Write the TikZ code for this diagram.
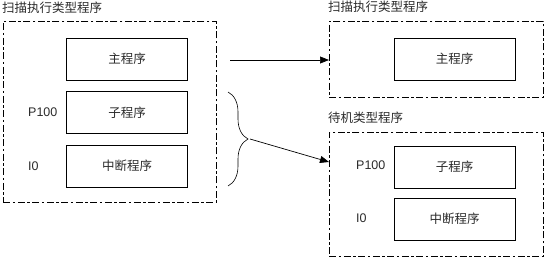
\documentclass[tikz,border=0pt]{standalone}
\usepackage{fontspec}
\setmainfont{Liberation Sans}
\newfontfamily\cjk{Noto Sans CJK SC}
\usepackage{tikz}
\usetikzlibrary{positioning,arrows.meta,calc,decorations.pathreplacing}
\definecolor{textgray}{HTML}{2B2B2B}

\tikzset{
  outerbox/.style={draw, dash pattern=on 7pt off 2.5pt on 2.5pt off 2.5pt,
    line width=0.6pt, anchor=north west, inner sep=0pt},
  progbox/.style={draw, line width=0.6pt, minimum width=121pt,
    minimum height=42pt, inner sep=0pt, text=textgray,
    font=\cjk\fontsize{12.5}{14}\selectfont},
  lbl/.style={anchor=west, inner sep=0pt, text=textgray,
    font=\fontsize{12.5}{14}\selectfont},
  grouptitle/.style={anchor=west, inner sep=0pt, text=textgray,
    font=\cjk\fontsize{12.5}{14}\selectfont},
  flow/.style={-{Triangle[length=9pt,width=7pt]}, line width=0.7pt},
}

\begin{document}
\begin{tikzpicture}[x=1pt, y=-1pt]
  \useasboundingbox (0,0) rectangle (553,260);

  % Grupo izquierdo: todo como tipo de ejecucion por escaneo
  \node[grouptitle] (ltitle) at (2,8) {扫描执行类型程序};
  \node[outerbox, minimum width=213pt, minimum height=181pt] (lbox) at (3,21) {};
  \node[progbox] (lmain) at (127,59)    {主程序};
  \node[progbox] (lsub)  at (127,112.5) {子程序};
  \node[progbox] (lint)  at (127,166)   {中断程序};
  \node[lbl] (lp100) at (28,112) {P100};
  \node[lbl] (li0)   at (28,166) {I0};

  % Grupo derecho superior
  \node[grouptitle] (rttitle) at (328,7) {扫描执行类型程序};
  \node[outerbox, minimum width=214pt, minimum height=76pt] (rtop) at (329,21) {};
  \node[progbox] (rmain) at (454.5,59) {主程序};

  % Grupo derecho inferior: tipo en espera
  \node[grouptitle] (rbtitle) at (328,118) {待机类型程序};
  \node[outerbox, minimum width=214pt, minimum height=124pt] (rbot) at (329,132) {};
  \node[progbox] (rsub) at (454.5,167) {子程序};
  \node[progbox] (rint) at (454.5,219) {中断程序};
  \node[lbl] (rp100) at (356,165) {P100};
  \node[lbl] (ri0)   at (356,218) {I0};

  % Llave y flechas
  \coordinate (bt) at (228,92);
  \coordinate (bb) at (228,186);
  \draw[line width=0.6pt, decorate, decoration={brace, amplitude=20pt}] (bt) -- (bb);
  \coordinate (btip) at (250,139);
  \coordinate (a1) at (230,60);
  \coordinate (a2) at ($(rbot.north west)+(0,30)$);
  \draw[flow] (a1) -- (a1 -| rtop.west);
  \draw[flow] (btip) -- (a2);
\end{tikzpicture}
\end{document}
